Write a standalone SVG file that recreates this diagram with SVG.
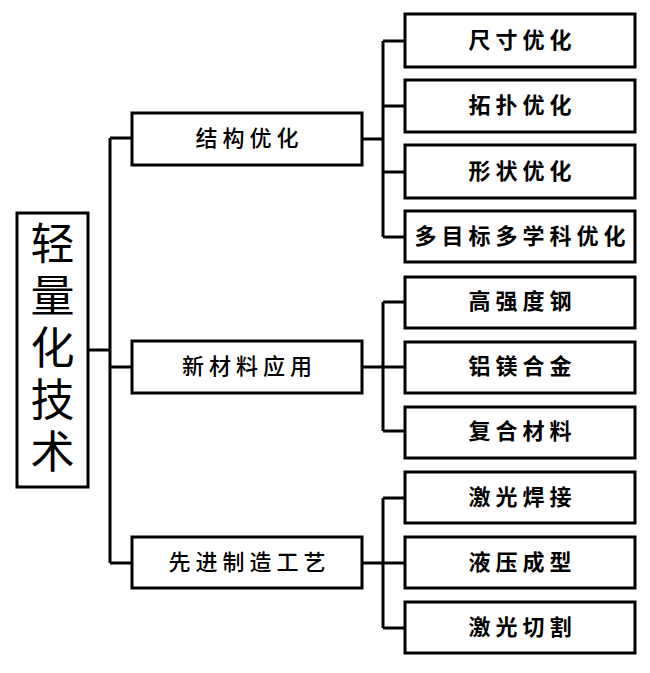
<svg xmlns="http://www.w3.org/2000/svg" width="650" height="673" viewBox="0 0 650 673">
<style>
rect{fill:#fff;stroke:#000;stroke-width:3}
.c{fill:none;stroke:#000;stroke-width:3}
text{font-family:"Noto Sans CJK SC","Noto Sans",sans-serif;fill:#000;text-anchor:middle;dominant-baseline:central}
.big{font-size:44px;writing-mode:vertical-rl;letter-spacing:8px;text-anchor:start}
.mid{font-size:22px;letter-spacing:5px;font-weight:500}
.leaf{font-size:22px;letter-spacing:5px;font-weight:bold}
</style>
<rect x="0" y="0" width="650" height="673" style="stroke:none"/>
<g id="connectors">
<path class="c" d="M88,350H110M110,138V563M110,138H132M110,367H132M110,563H132"/>
<path class="c" d="M362,139H383M383,41V237M383,41H405M383,106H405M383,172H405M383,237H405"/>
<path class="c" d="M362,367H405M383,302V431M383,302H405M383,431H405"/>
<path class="c" d="M362,563H405M383,498V628M383,498H405M383,628H405"/>
</g>
<g id="root">
<rect x="17" y="213" width="71" height="274"/>
<text class="big" x="52.5" y="221">轻量化技术</text>
</g>
<g id="n-structure"><rect x="132" y="113" width="230" height="52"/><text class="mid" x="249.5" y="136">结构优化</text></g>
<g id="n-material"><rect x="132" y="341" width="230" height="52"/><text class="mid" x="249.5" y="364">新材料应用</text></g>
<g id="n-manufacture"><rect x="132" y="537" width="230" height="51"/><text class="mid" x="249.5" y="560">先进制造工艺</text></g>
<g id="n-size"><rect x="405" y="14" width="230" height="53"/><text class="leaf" x="522.5" y="38">尺寸优化</text></g>
<g id="n-topo"><rect x="405" y="80" width="230" height="52"/><text class="leaf" x="522.5" y="103">拓扑优化</text></g>
<g id="n-shape"><rect x="405" y="145" width="230" height="53"/><text class="leaf" x="522.5" y="169">形状优化</text></g>
<g id="n-mdo"><rect x="405" y="211" width="230" height="51"/><text class="leaf" x="522.5" y="234">多目标多学科优化</text></g>
<g id="n-steel"><rect x="405" y="277" width="230" height="51"/><text class="leaf" x="522.5" y="299">高强度钢</text></g>
<g id="n-alloy"><rect x="405" y="342" width="230" height="51"/><text class="leaf" x="522.5" y="364">铝镁合金</text></g>
<g id="n-composite"><rect x="405" y="407" width="230" height="51"/><text class="leaf" x="522.5" y="429">复合材料</text></g>
<g id="n-weld"><rect x="405" y="472" width="230" height="51"/><text class="leaf" x="522.5" y="495">激光焊接</text></g>
<g id="n-hydro"><rect x="405" y="537" width="230" height="51"/><text class="leaf" x="522.5" y="560">液压成型</text></g>
<g id="n-cut"><rect x="405" y="602" width="230" height="51"/><text class="leaf" x="522.5" y="625">激光切割</text></g>
</svg>
